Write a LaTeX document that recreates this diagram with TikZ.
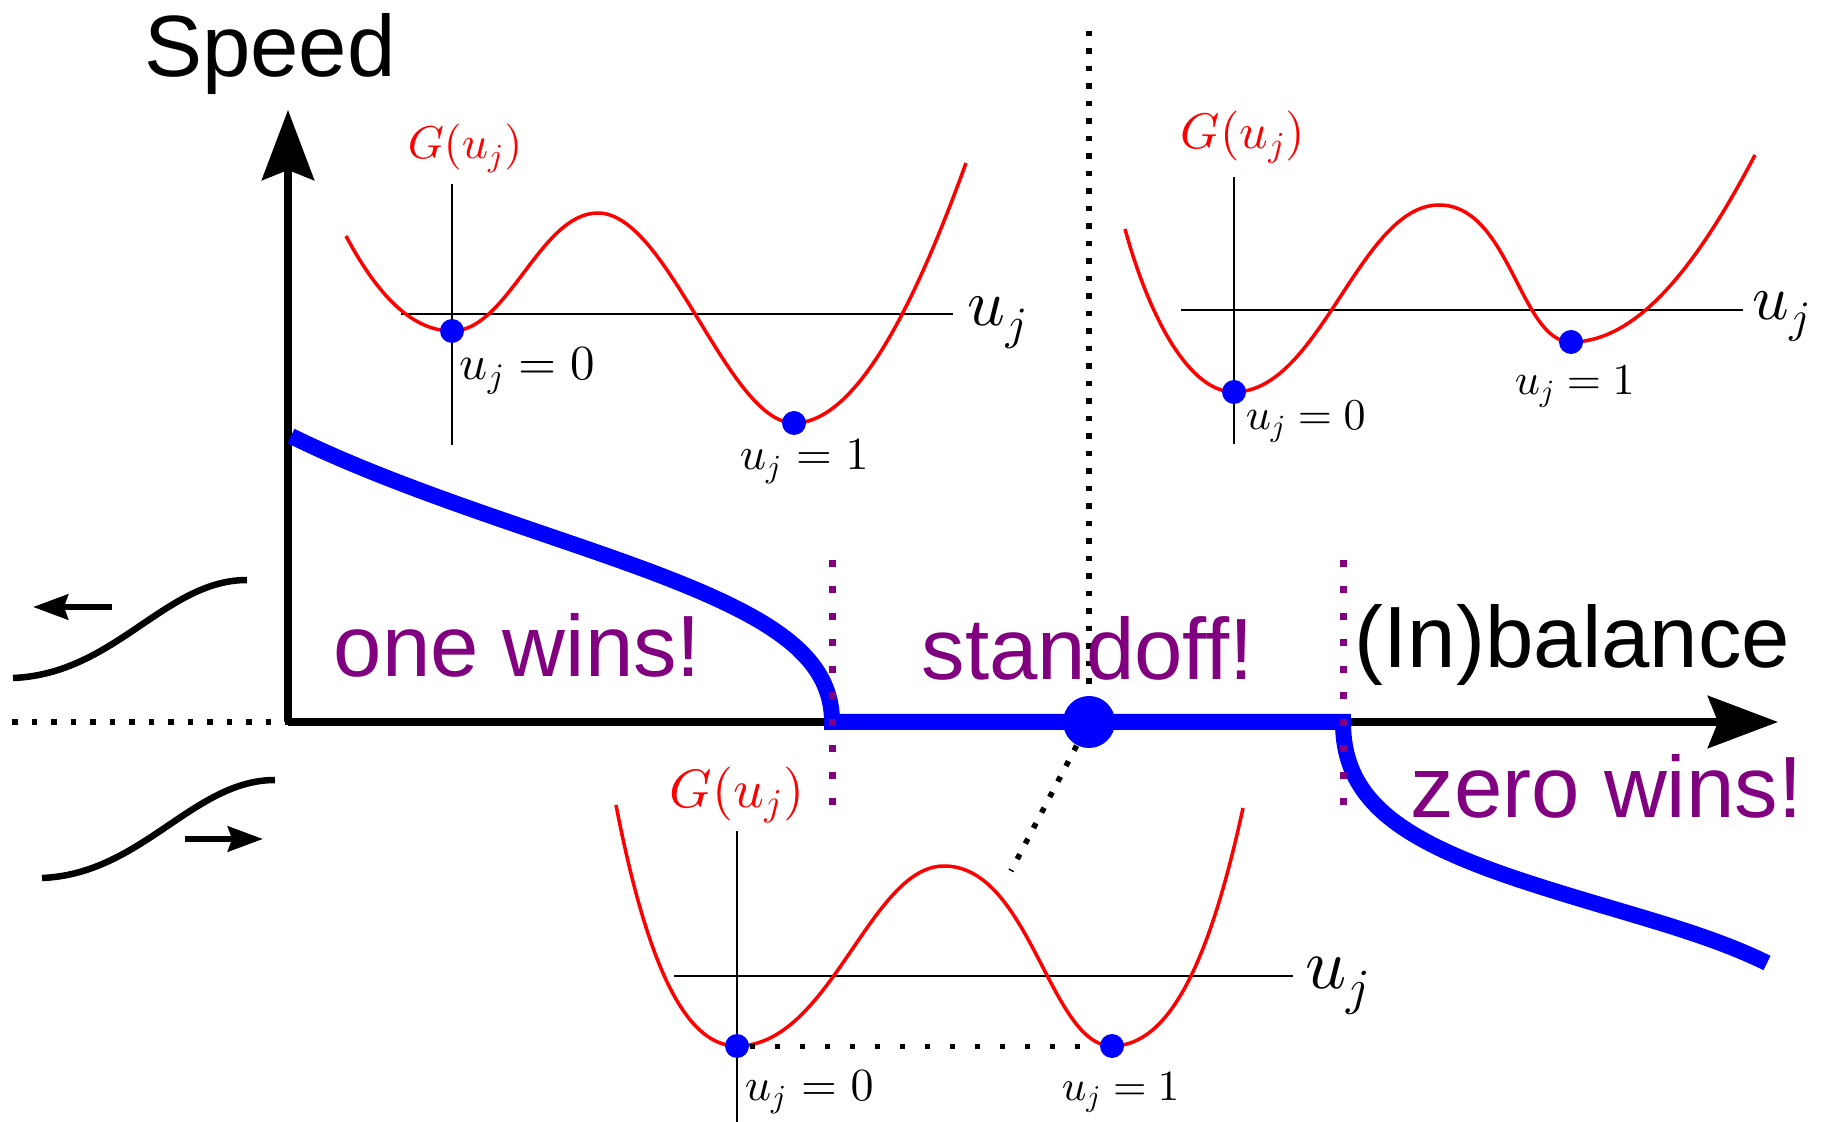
\documentclass[tikz,border=0pt]{standalone}
\usepackage[no-math]{fontspec}
\setmainfont{Liberation Sans}
\usetikzlibrary{arrows.meta}
% math letters from the 10pt design at every size
\DeclareFontShape{OML}{cmm}{m}{it}{<->cmmi10}{}
\DeclareFontShape{OT1}{cmr}{m}{n}{<->cmr10}{}

\definecolor{wellred}{RGB}{255,0,0}
\definecolor{speedblue}{RGB}{0,0,255}
\definecolor{winpurple}{RGB}{128,0,128}

\tikzset{every picture/.style={line width=0.75pt}}

\begin{document}
\begin{tikzpicture}[x=0.5pt,y=0.5pt,yscale=-1,
  mainaxis/.style={line width=3.75pt,-{Stealth[length=35pt,width=26pt,inset=5pt]}},
  insetaxis/.style={line width=1pt},
  well/.style={draw=wellred,line width=1.75pt,line join=round},
  speedline/.style={draw=speedblue,line width=8pt},
  blackdots/.style={line width=2.75pt,dash pattern=on 2.75pt off 6pt},
  thindots/.style={line width=2.5pt,dash pattern=on 2.5pt off 10pt},
  purpledots/.style={draw=winpurple,line width=3.5pt,dash pattern=on 3.5pt off 9.75pt},
  wave/.style={line width=3.25pt},
  push/.style={line width=3pt,-{Stealth[length=17.5pt,width=12.5pt,inset=2pt]}},
  welldot/.style={circle,fill=speedblue,inner sep=0pt,minimum size=12pt},
  bigdot/.style={circle,fill=speedblue,inner sep=0pt,minimum size=26pt},
  bigword/.style={inner sep=0pt,font=\fontsize{43.5}{52}\selectfont},
  mlabel/.style={inner sep=0pt,anchor=base west}]
\useasboundingbox (0,0) rectangle (1822,1122);

%Straight Lines: main axes
\draw [dash pattern=on 2.75pt off 7pt][line width=2.75pt] (12,722) -- (288,722) ;
\draw [mainaxis] (288,722) -- (288,110) ;
\draw [mainaxis] (288,722) -- (1778,722) ;

%Curve Lines: the speed
\draw [speedline] (291,436) .. controls (390,485) and (520,525) .. (613,558) .. controls (760,610) and (832,650) .. (832,722) -- (1343,722) .. controls (1343,800) and (1400,840) .. (1520,880) .. controls (1620,913) and (1700,930) .. (1767,963) ;

%Straight Lines: borders
\draw [purpledots] (832,560) -- (832,808) ;
\draw [purpledots] (1343,560) -- (1343,808) ;

%Shape: Circle
\node (sd) [bigdot] at (1089,722) {};
\coordinate (sdtop) at (1089,31);
\coordinate (sdend) at (1011,871);
\draw [blackdots] (sdtop) -- (sd) ;
\draw [blackdots] (sd) -- (sdend) ;

%Curve Lines: fronts on the left
\draw [wave] (13,678) .. controls (115,674) and (165,580) .. (247,580) ;
\draw [push] (112,607) -- (33,607) ;
\draw [wave] (42,878) .. controls (142,874) and (193,780) .. (275,780) ;
\draw [push] (185,839) -- (263,839) ;

%Inset: top left
\draw [insetaxis] (452,184) -- (452,445) ;
\draw [insetaxis] (401,314) -- (953,314) ;
\draw [well] (346,236) .. controls (380,300) and (415,331) .. (452,331) .. controls (508,331) and (540,213) .. (598,213) .. controls (668,213) and (728,423) .. (794,423) .. controls (860,423) and (920,290) .. (966,163) ;
\node (tl0) [welldot] at (452,331) {};
\node (tl1) [welldot] at (794,423) {};
\node (tlG) [inner sep=0pt,anchor=base,text=wellred,font=\fontsize{23}{28}\selectfont] at (465,159) {$G(u_j)$};
\node (tlu) [mlabel,font=\fontsize{33}{40}\selectfont] at (967,326) {$u_j$};
\node (tl0lab) [mlabel,font=\fontsize{24.5}{30}\selectfont] at (459,380) {$u_j=0$};
\node (tl1lab) [mlabel,font=\fontsize{23}{28}\selectfont] at (739,470) {$u_j=1$};

%Inset: top right
\draw [insetaxis] (1234,177) -- (1234,444) ;
\draw [insetaxis] (1181,310) -- (1743,310) ;
\draw [well] (1125,229) .. controls (1150,320) and (1190,392) .. (1234,392) .. controls (1320,392) and (1360,205) .. (1439,205) .. controls (1510,205) and (1520,342) .. (1571,342) .. controls (1640,342) and (1700,260) .. (1755,155) ;
\node (tr0) [welldot] at (1234,392) {};
\node (tr1) [welldot] at (1571,342) {};
\node (trG) [inner sep=0pt,anchor=base,text=wellred,font=\fontsize{25}{30}\selectfont] at (1243,149) {$G(u_j)$};
\node (tru) [mlabel,font=\fontsize{32}{38}\selectfont] at (1752,320) {$u_j$};
\node (tr0lab) [mlabel,font=\fontsize{22}{26}\selectfont] at (1245,430) {$u_j=0$};
\node (tr1lab) [mlabel,font=\fontsize{22}{26}\selectfont] at (1514,395) {$u_j=1$};

%Inset: bottom
\draw [insetaxis] (737,831) -- (737,1122) ;
\draw [insetaxis] (674,976) -- (1293,976) ;
\draw [well] (616,805) .. controls (650,980) and (690,1046) .. (737,1046) .. controls (830,1046) and (870,866) .. (944,866) .. controls (1030,866) and (1050,1046) .. (1112,1046) .. controls (1170,1046) and (1210,960) .. (1243,808) ;
\node (b0) [welldot] at (737,1046) {};
\node (b1) [welldot] at (1112,1046) {};
\draw [thindots] (b0) -- (b1) ;
\node (bG) [inner sep=0pt,anchor=base,text=wellred,font=\fontsize{27}{32}\selectfont] at (737,808) {$G(u_j)$};
\node (bu) [mlabel,font=\fontsize{36}{42}\selectfont] at (1305,988) {$u_j$};
\node (b0lab) [mlabel,font=\fontsize{23}{28}\selectfont] at (744,1100) {$u_j=0$};
\node (b1lab) [mlabel,font=\fontsize{21.5}{26}\selectfont] at (1061,1100) {$u_j=1$};

% Text Node
\node (speed) [bigword,anchor=base] at (270,77) {Speed};
\node (onewins) [bigword,anchor=base west,text=winpurple] at (333,677) {one wins!};
\node (standoff) [bigword,anchor=base west,text=winpurple] at (921,680) {standoff!};
\node (inbal) [bigword,anchor=base west] at (1354,668) {(In)balance};
\node (zerowins) [bigword,anchor=base west,text=winpurple] at (1410,818) {zero wins!};

\end{tikzpicture}
\end{document}
